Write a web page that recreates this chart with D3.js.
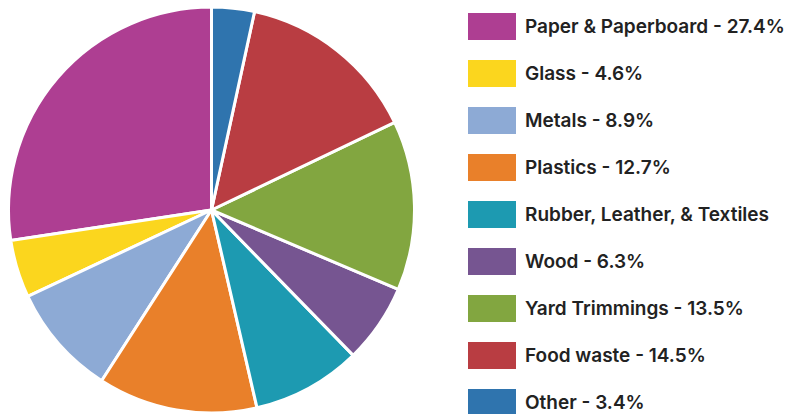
<!DOCTYPE html>
<html>
<head>
<meta charset="utf-8">
<script src="https://cdn.jsdelivr.net/npm/d3@7"></script>
<style>
  html, body { margin: 0; padding: 0; background: #fff; }
  svg { display: block; }
</style>
</head>
<body>
<svg id="chart"></svg>
<script>
const categories = ["Paper & Paperboard", "Glass", "Metals", "Plastics", "Rubber, Leather, & Textiles", "Wood", "Yard Trimmings", "Food waste", "Other"];
const values = [27.4, 4.6, 8.9, 12.7, 8.7, 6.3, 13.5, 14.5, 3.4];
const legendLabels = ["Paper & Paperboard - 27.4%", "Glass - 4.6%", "Metals - 8.9%", "Plastics - 12.7%", "Rubber, Leather, & Textiles", "Wood - 6.3%", "Yard Trimmings - 13.5%", "Food waste - 14.5%", "Other - 3.4%"];
const colors = ["#ae3e92", "#fbd61e", "#8daad5", "#e9802a", "#1d9ab1", "#765591", "#82a640", "#b93d42", "#2f74ae"];

const width = 791, height = 414;
const svg = d3.select("#chart").attr("width", width).attr("height", height);

const data = categories.map((c, i) => ({ name: c, value: values[i], label: legendLabels[i], color: colors[i] }));

// pie runs counter-clockwise from 12 o'clock
const pie = d3.pie().sort(null).value(d => d.value).startAngle(0).endAngle(-2 * Math.PI);
const arc = d3.arc().innerRadius(0).outerRadius(203);

svg.append("g")
  .attr("transform", "translate(211.5,210)")
  .selectAll("path")
  .data(pie(data))
  .join("path")
  .attr("d", arc)
  .attr("fill", d => d.data.color)
  .attr("stroke", "#fff")
  .attr("stroke-width", 3)
  .attr("stroke-linejoin", "round");

// legend
const y = d3.scaleBand().domain(categories).range([13, 13 + 47 * categories.length]).paddingInner(0);
const legend = svg.append("g");
const row = legend.selectAll("g")
  .data(data)
  .join("g")
  .attr("transform", d => `translate(468,${y(d.name)})`);

row.append("rect")
  .attr("width", 48)
  .attr("height", 27)
  .attr("fill", d => d.color);

row.append("text")
  .attr("x", 57)
  .attr("y", 13.5)
  .attr("dy", "0.35em")
  .attr("font-family", "Inter, 'Noto Sans', sans-serif")
  .attr("font-size", 19)
  .attr("font-weight", 600)
  .attr("fill", "#222")
  .text(d => d.label);
</script>
</body>
</html>
